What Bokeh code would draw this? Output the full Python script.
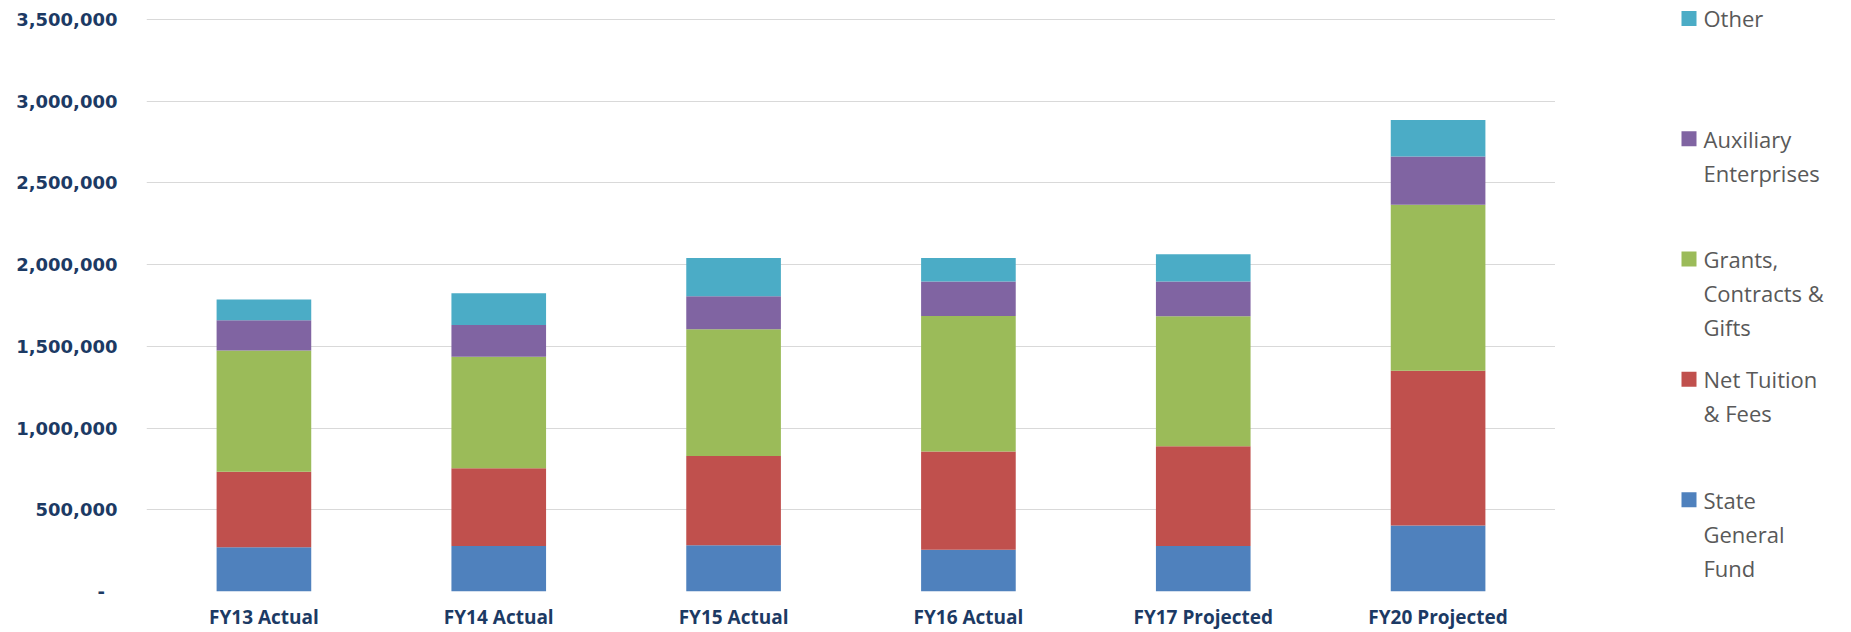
from bokeh.plotting import figure
from bokeh.models import ColumnDataSource, FactorRange, Range1d, FixedTicker
from bokeh.layouts import row
from bokeh.embed import file_html
from bokeh.resources import INLINE
from bokeh.core.properties import value

# ---- data ----
categories = ["FY13 Actual", "FY14 Actual", "FY15 Actual", "FY16 Actual", "FY17 Projected", "FY20 Projected"]
state_general_fund = [271000, 279000, 283000, 256000, 278000, 404000]
net_tuition_fees = [461000, 475000, 546000, 600000, 610000, 946000]
grants_contracts_gifts = [742000, 683000, 775000, 829000, 796000, 1017000]
auxiliary_enterprises = [185000, 193000, 203000, 212000, 212000, 295000]
other = [128000, 195000, 234000, 143000, 168000, 223000]

series_keys = ["state", "tuition", "grants", "aux", "other"]
series_colors = ["#4f81bd", "#c0504d", "#9bbb59", "#8064a2", "#4bacc6"]

y_ticks = [0, 500000, 1000000, 1500000, 2000000, 2500000, 3000000, 3500000]
y_tick_labels = ["-\u00a0\u00a0", "500,000", "1,000,000", "1,500,000", "2,000,000",
                 "2,500,000", "3,000,000", "3,500,000"]

legend_items = [
    ("other", ["Other"]),
    ("aux", ["Auxiliary", "Enterprises"]),
    ("grants", ["Grants,", "Contracts &", "Gifts"]),
    ("tuition", ["Net Tuition", "& Fees"]),
    ("state", ["State", "General", "Fund"]),
]

NAVY = "#1c3a64"
GRID = "#d9d9d9"

# layout geometry (pixels)
H = 632
FRAME_BOTTOM = 592          # pixel row of the zero line
TOP_TICK_PX = 19            # pixel row of the top gridline
y_top = y_ticks[-1] * FRAME_BOTTOM / (FRAME_BOTTOM - TOP_TICK_PX)

source = ColumnDataSource(dict(
    cat=categories,
    state=state_general_fund,
    tuition=net_tuition_fees,
    grants=grants_contracts_gifts,
    aux=auxiliary_enterprises,
    other=other,
))

p = figure(
    width=1555, height=H, title=None,
    x_range=FactorRange(*categories),
    y_range=Range1d(0, y_top),
    output_backend="svg", toolbar_location=None,
    min_border_left=146, min_border_right=0,
    min_border_top=0, min_border_bottom=H - FRAME_BOTTOM,
)
p.outline_line_color = None
p.background_fill_color = "white"
p.border_fill_color = "white"

p.vbar_stack(series_keys, x="cat", width=0.403, color=series_colors,
             line_color=None, source=source)

# y axis
p.yaxis.ticker = FixedTicker(ticks=y_ticks)
p.yaxis.major_label_overrides = {t: s for t, s in zip(y_ticks, y_tick_labels)}
p.yaxis.axis_line_color = None
p.yaxis.major_tick_line_color = None
p.yaxis.minor_tick_line_color = None
p.yaxis.major_tick_out = 0
p.yaxis.major_tick_in = 0
p.yaxis.major_label_standoff = 29
p.yaxis.major_label_text_font = "DejaVu Sans"
p.yaxis.major_label_text_font_style = "bold"
p.yaxis.major_label_text_font_size = "18px"
p.yaxis.major_label_text_color = NAVY

# x axis
p.xaxis.axis_line_color = None
p.xaxis.major_tick_line_color = None
p.xaxis.minor_tick_line_color = None
p.xaxis.major_tick_out = 0
p.xaxis.major_tick_in = 0
p.xaxis.major_label_standoff = 12
p.xaxis.major_label_text_font = "Open Sans"
p.xaxis.major_label_text_font_style = "bold"
p.xaxis.major_label_text_font_size = "19px"
p.xaxis.major_label_text_color = NAVY

p.xgrid.grid_line_color = None
p.ygrid.grid_line_color = GRID
p.ygrid.grid_line_width = 1.2

# ---- legend panel (data units == pixels) ----
leg = figure(
    width=296, height=H, title=None,
    x_range=Range1d(0, 296), y_range=Range1d(FRAME_BOTTOM, 0),
    output_backend="svg", toolbar_location=None,
    x_axis_location=None, y_axis_location=None,
    min_border_left=0, min_border_right=0,
    min_border_top=0, min_border_bottom=H - FRAME_BOTTOM,
)
leg.outline_line_color = None
leg.grid.visible = False
leg.background_fill_color = "white"
leg.border_fill_color = "white"

color_of = dict(zip(series_keys, series_colors))
first_y = 18
item_gap = 120.5
line_gap = 34
sq_x = 133.5
txt_x = 148

sq_xs, sq_ys, sq_cols = [], [], []
tx, ty, tt = [], [], []
for i, (key, lines) in enumerate(legend_items):
    y0 = first_y + i * item_gap
    sq_xs.append(sq_x)
    sq_ys.append(y0)
    sq_cols.append(color_of[key])
    for j, ln in enumerate(lines):
        tx.append(txt_x)
        ty.append(y0 + j * line_gap)
        tt.append(ln)

leg.rect(x=sq_xs, y=sq_ys, width=15, height=15, color=sq_cols, line_color=None)
leg.text(x=tx, y=ty, text=tt, text_font=value("Open Sans"), text_font_size="22px",
         text_color="#595959", text_baseline="middle", text_align="left")

layout = row(p, leg, spacing=0)

open("out.html", "w").write(file_html(layout, INLINE))
